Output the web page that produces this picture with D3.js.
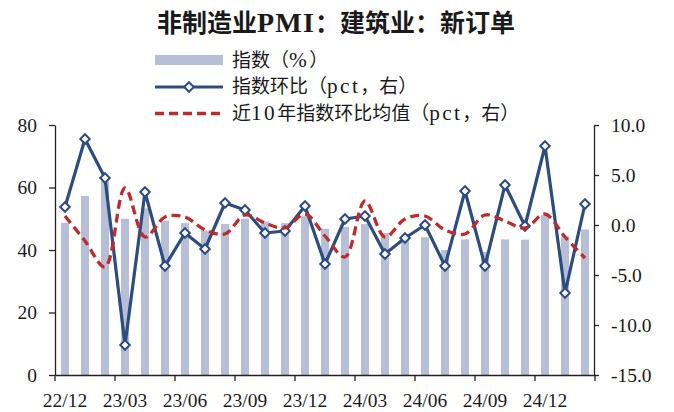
<!DOCTYPE html>
<html>
<head>
<meta charset="utf-8">
<script src="https://cdn.jsdelivr.net/npm/d3@7"></script>
<style>
  body { margin: 0; background: #fff; }
  svg text { font-family: "Liberation Serif", "Noto Sans CJK SC", serif; fill: #1a1a1a; }
</style>
</head>
<body>
<div id="container"></div>
<script>
// months from 22/12 to 25/02
var months = ["22/12","23/01","23/02","23/03","23/04","23/05","23/06","23/07","23/08","23/09","23/10","23/11",
  "23/12","24/01","24/02","24/03","24/04","24/05","24/06","24/07","24/08","24/09","24/10","24/11",
  "24/12","25/01","25/02"];
var tickMonths = ["22/12","23/03","23/06","23/09","23/12","24/03","24/06","24/09","24/12"];

// 指数（%）
var index = [48.7, 57.3, 62.0, 50.0, 53.3, 49.4, 48.6, 46.2, 48.3, 50.0, 49.1, 48.6,
  50.8, 46.8, 47.4, 48.3, 45.4, 44.1, 44.1, 40.0, 43.4, 39.4, 43.4, 43.3, 51.2, 44.4, 46.6];
// 指数环比（pct）
var mom = [1.8, 8.6, 4.7, -12.0, 3.3, -4.1, -0.8, -2.4, 2.2, 1.5, -0.8, -0.6,
  1.9, -3.9, 0.6, 0.9, -2.9, -1.3, 0.0, -4.1, 3.4, -4.1, 4.0, -0.1, 7.9, -6.8, 2.1];
// 近10年指数环比均值（pct）
var avg10 = [0.9, -1.6, -4.2, 3.7, -1.2, 0.8, 0.8, -0.5, -0.9, 1.0, 0.2, -0.3,
  1.1, -1.1, -3.2, 2.4, -1.2, 0.6, 0.9, -0.5, -0.9, 1.0, 0.4, -0.3, 1.1, -1.2, -3.3];

var leftTicks = [0, 20, 40, 60, 80];
var rightTicks = [-15, -10, -5, 0, 5, 10];
var legendText = ["指数（%）", "指数环比（pct，右）", "近10年指数环比均值（pct，右）"];
var titleText = "非制造业PMI：建筑业：新订单";

var width = 674, height = 412;
var barColor = "#b6bfd5", blue = "#2d4d80", red = "#bf2b2a", axisColor = "#222";

var svg = d3.select("#container").append("svg")
    .attr("width", width)
    .attr("height", height);

var x = d3.scaleBand().domain(months).range([55, 595]);
var yL = d3.scaleLinear().domain([0, 80]).range([375, 125]);
var yR = d3.scaleLinear().domain([-15, 10]).range([375, 125]);
var cx = function(m) { return x(m) + x.bandwidth() / 2; };

// latin runs get a slightly bigger, wider face like the original
function runs(sel, str, size, spacing) {
  str.match(/[\x00-\x7F]+|[^\x00-\x7F]+/g).forEach(function(r) {
    var t = sel.append("tspan").text(r);
    if (/^[\x00-\x7F]+$/.test(r))
      t.attr("font-size", size).attr("letter-spacing", spacing);
  });
}

/* bars */
var barW = x.bandwidth() * 0.4;
svg.append("g").selectAll("rect")
    .data(index)
    .enter().append("rect")
    .attr("x", function(d, i) { return cx(months[i]) - barW / 2; })
    .attr("y", function(d) { return yL(d); })
    .attr("width", barW)
    .attr("height", function(d) { return yL(0) - yL(d); })
    .attr("fill", barColor);

/* axes */
var gL = svg.append("g")
    .attr("transform", "translate(55,0)")
    .call(d3.axisLeft(yL).tickValues(leftTicks).tickSize(6).tickSizeOuter(0).tickPadding(12));
var gR = svg.append("g")
    .attr("transform", "translate(594,0)")
    .call(d3.axisRight(yR).tickValues(rightTicks).tickSize(5).tickSizeOuter(0).tickPadding(12)
      .tickFormat(function(d) { return d.toFixed(1); }));
var gX = svg.append("g")
    .attr("transform", "translate(0,375)")
    .call(d3.axisBottom(x).tickValues(tickMonths).tickSize(0).tickSizeOuter(0).tickPadding(18));

gX.selectAll(".boundary")
    .data(tickMonths.concat(["end"]))
    .enter().append("line")
    .attr("class", "boundary")
    .attr("x1", function(d) { return d == "end" ? 595 : x(d); })
    .attr("x2", function(d) { return d == "end" ? 595 : x(d); })
    .attr("y1", 0).attr("y2", 6)
    .attr("stroke", axisColor);

[gL, gR, gX].forEach(function(g) {
  g.selectAll("path, line").attr("stroke", axisColor).attr("stroke-width", 1.3);
  g.selectAll("text").attr("font-size", 19.5).style("fill", "#1a1a1a")
    .style("font-family", "'Liberation Serif', serif");
});

/* 指数环比 */
var line = d3.line()
    .x(function(d, i) { return cx(months[i]); })
    .y(function(d) { return yR(d); });

svg.append("path")
    .datum(mom)
    .attr("d", line)
    .attr("fill", "none")
    .attr("stroke", blue)
    .attr("stroke-width", 3.2)
    .attr("stroke-linejoin", "round");

var diamond = d3.symbol().type(d3.symbolDiamond2).size(58);
svg.append("g").selectAll("path")
    .data(mom)
    .enter().append("path")
    .attr("d", diamond)
    .attr("transform", function(d, i) { return "translate(" + cx(months[i]) + "," + yR(d) + ")"; })
    .attr("fill", "#fff")
    .attr("stroke", blue)
    .attr("stroke-width", 2);

/* 近10年均值 */
var smooth = d3.line()
    .x(function(d, i) { return cx(months[i]); })
    .y(function(d) { return yR(d); })
    .curve(d3.curveCatmullRom.alpha(0.5));

svg.append("path")
    .datum(avg10)
    .attr("d", smooth)
    .attr("fill", "none")
    .attr("stroke", red)
    .attr("stroke-width", 3.3)
    .attr("stroke-dasharray", "9,5");

/* title */
var title = svg.append("text")
    .attr("x", 336)
    .attr("y", 32)
    .attr("text-anchor", "middle")
    .attr("font-size", 25)
    .attr("font-weight", "bold");
runs(title, titleText, 28, 1.2);

/* legend */
var legend = svg.append("g").attr("transform", "translate(155,0)");
legend.append("rect")
    .attr("x", 0).attr("y", 55).attr("width", 68).attr("height", 10)
    .attr("fill", barColor);
legend.append("line")
    .attr("x1", 0).attr("x2", 68).attr("y1", 87).attr("y2", 87)
    .attr("stroke", blue).attr("stroke-width", 3.2);
legend.append("path")
    .attr("d", diamond)
    .attr("transform", "translate(34,87)")
    .attr("fill", "#fff").attr("stroke", blue).attr("stroke-width", 2);
legend.append("line")
    .attr("x1", 0).attr("x2", 68).attr("y1", 113.5).attr("y2", 113.5)
    .attr("stroke", red).attr("stroke-width", 3.3).attr("stroke-dasharray", "9,5");

legend.selectAll(".lt")
    .data(legendText)
    .enter().append("text")
    .attr("class", "lt")
    .attr("x", 77)
    .attr("y", function(d, i) { return 60 + i * 26.6; })
    .attr("dy", "0.35em")
    .attr("font-size", 19)
    .each(function(d) { runs(d3.select(this), d, 21.3, 2.4); });
</script>
</body>
</html>
